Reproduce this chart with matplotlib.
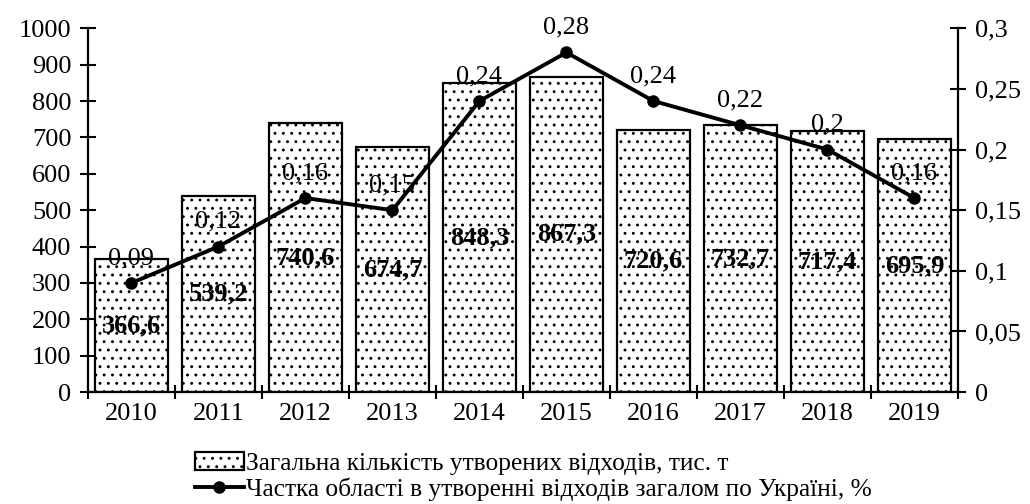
import matplotlib
matplotlib.use("Agg")
import matplotlib.pyplot as plt
import numpy as np
from matplotlib.patches import Patch
from matplotlib.lines import Line2D

years = ["2010", "2011", "2012", "2013", "2014", "2015", "2016", "2017", "2018", "2019"]
waste = [366.6, 539.2, 740.6, 674.7, 848.3, 867.3, 720.6, 732.7, 717.4, 695.9]
share = [0.09, 0.12, 0.16, 0.15, 0.24, 0.28, 0.24, 0.22, 0.20, 0.16]

bar_label = "Загальна кількість утворених відходів, тис. т"
line_label = "Частка області в утворенні відходів загалом по Україні, %"


def comma(v, fmt="{:g}"):
    return fmt.format(v).replace(".", ",")


plt.rcParams["font.family"] = ["Liberation Serif", "DejaVu Serif"]
plt.rcParams["hatch.linewidth"] = 0.9

FS = 19
fig = plt.figure(figsize=(10.3, 5.04), dpi=100)
ax = fig.add_axes([0.0854, 0.222, 0.8446, 0.722])
x = np.arange(len(years))

ax.bar(x, waste, width=0.84, facecolor="white", edgecolor="black",
       linewidth=1.6, hatch="..", zorder=2)
for xi, v in zip(x, waste):
    ax.text(xi, v / 2, comma(v, "{:.1f}"), ha="center", va="center",
            fontsize=FS, fontweight="bold", zorder=5)

ax.set_xlim(-0.5, len(years) - 0.5)
ax.set_ylim(0, 1000)
ax.set_yticks(range(0, 1001, 100))
ax.set_xticks(x)
ax.set_xticklabels(years)
ax.set_xticks(np.arange(-0.5, len(years)), minor=True)
ax.tick_params(axis="x", which="major", length=0, labelsize=FS, pad=8)
ax.tick_params(axis="x", which="minor", direction="inout", length=10, width=1.5)
ax.tick_params(axis="y", direction="inout", length=12, width=1.5, labelsize=FS, pad=6)
ax.spines["top"].set_visible(False)
ax.spines["right"].set_visible(False)
for s in ("left", "bottom"):
    ax.spines[s].set_linewidth(1.6)

ax2 = ax.twinx()
ax2.plot(x, share, color="black", linewidth=2.8, marker="o", markersize=8, zorder=6)
for xi, v in zip(x, share):
    ax2.annotate(comma(v), (xi, v), xytext=(0, 10), textcoords="offset points",
                 ha="center", va="bottom", fontsize=FS, zorder=7)
ax2.set_ylim(0, 0.3)
ax2.set_yticks(np.arange(0, 0.301, 0.05))
ax2.set_yticklabels([comma(round(t, 2)) for t in np.arange(0, 0.301, 0.05)])
ax2.tick_params(axis="y", direction="inout", length=12, width=1.5, labelsize=FS, pad=6)
for s in ("top", "left", "bottom"):
    ax2.spines[s].set_visible(False)
ax2.spines["right"].set_linewidth(1.6)

handles = [
    Patch(facecolor="white", edgecolor="black", hatch="..", linewidth=1.6),
    Line2D([0], [0], color="black", linewidth=2.8, marker="o", markersize=8),
]
fig.legend(handles, [bar_label, line_label], loc="lower center",
           bbox_to_anchor=(0.518, -0.04), frameon=False, fontsize=18.3,
           handlelength=1.9, handletextpad=0.1, labelspacing=0.12)

fig.savefig("out.png", dpi=100)
